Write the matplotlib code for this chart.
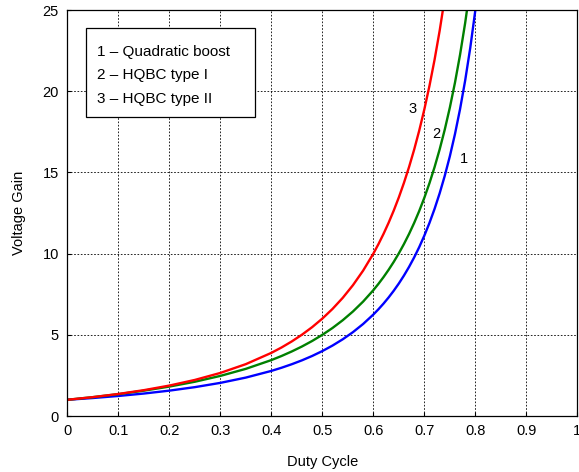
import matplotlib.pyplot as plt
from matplotlib.patches import Rectangle

plt.rcParams['font.family'] = ['Liberation Sans', 'DejaVu Sans']

# duty cycle samples and voltage gain of each converter
duty = [0.0, 0.05, 0.1, 0.15, 0.2, 0.25, 0.3, 0.35, 0.4,
        0.42, 0.44, 0.46, 0.48, 0.5, 0.52, 0.54, 0.56, 0.58, 0.6,
        0.61, 0.62, 0.63, 0.64, 0.65, 0.66, 0.67, 0.68, 0.69, 0.7,
        0.71, 0.72, 0.73, 0.74, 0.75, 0.76, 0.77, 0.78, 0.79, 0.8, 0.81]
gain_quadratic = [1.0, 1.108, 1.235, 1.384, 1.563, 1.778, 2.041, 2.367, 2.778,
                  2.973, 3.189, 3.429, 3.698, 4.0, 4.34, 4.726, 5.165, 5.669, 6.25,
                  6.575, 6.925, 7.305, 7.716, 8.163, 8.651, 9.183, 9.766, 10.406, 11.111,
                  11.891, 12.755, 13.717, 14.793, 16.0, 17.361, 18.904, 20.661, 22.676,
                  25.0, 27.701]
gain_type1 = [1.0, 1.161, 1.346, 1.56, 1.813, 2.111, 2.47, 2.905, 3.444,
              3.697, 3.975, 4.281, 4.621, 5.0, 5.423, 5.9, 6.438, 7.05, 7.75,
              8.139, 8.557, 9.008, 9.494, 10.02, 10.592, 11.213, 11.891, 12.632, 13.444,
              14.339, 15.326, 16.421, 17.639, 19.0, 20.528, 22.252, 24.206, 26.438,
              29.0, 31.964]
gain_type2 = [1.0, 1.163, 1.358, 1.592, 1.875, 2.222, 2.653, 3.195, 3.889,
              4.221, 4.592, 5.007, 5.473, 6.0, 6.597, 7.278, 8.058, 8.957, 10.0,
              10.586, 11.219, 11.907, 12.654, 13.469, 14.361, 15.336, 16.406, 17.586, 18.889,
              20.333, 21.939, 23.73, 25.74, 28.0, 30.556, 33.46, 36.57, 40.57,
              45.0, 50.14]

curve_labels = ['1', '2', '3']
legend_lines = ['1 \u2013 Quadratic boost', '2 \u2013 HQBC type I', '3 \u2013 HQBC type II']
xticks = [0, 0.1, 0.2, 0.3, 0.4, 0.5, 0.6, 0.7, 0.8, 0.9, 1]
xticklabels = ['0', '0.1', '0.2', '0.3', '0.4', '0.5', '0.6', '0.7', '0.8', '0.9', '1']
yticks = [0, 5, 10, 15, 20, 25]

fig = plt.figure(figsize=(5.79, 4.72), dpi=100)
ax = fig.add_axes([0.1162, 0.1186, 0.881, 0.860])

ax.plot(duty, gain_quadratic, color='#0000ff', lw=1.7)
ax.plot(duty, gain_type1, color='#008000', lw=1.7)
ax.plot(duty, gain_type2, color='#ff0000', lw=1.7)

ax.set_xlim(0, 1)
ax.set_ylim(0, 25)
ax.set_xticks(xticks)
ax.set_xticklabels(xticklabels)
ax.set_yticks(yticks)
ax.tick_params(direction='in', length=3, labelsize=10.5, colors='black', pad=6)
ax.grid(True, color='black', linestyle=(0, (2, 2)), linewidth=0.6)
for s in ax.spines.values():
    s.set_linewidth(0.9)

ax.set_xlabel('Duty Cycle', fontsize=10.5, labelpad=12)
ax.set_ylabel('Voltage Gain', fontsize=10.5, labelpad=12)

# curve numbers next to the lines
ax.text(0.676, 18.9, curve_labels[2], fontsize=10.5, ha='center', va='center')
ax.text(0.723, 17.4, curve_labels[1], fontsize=10.5, ha='center', va='center')
ax.text(0.778, 15.8, curve_labels[0], fontsize=10.5, ha='center', va='center')

# legend box
ax.add_patch(Rectangle((0.0367, 0.736), 0.331, 0.22, transform=ax.transAxes,
                       facecolor='white', edgecolor='black', lw=0.9, zorder=5))
for i, t in enumerate(legend_lines):
    ax.text(0.058, 0.897 - i * 0.058, t, transform=ax.transAxes, fontsize=11,
            va='center', ha='left', zorder=6)

fig.savefig('out.png', dpi=100)
